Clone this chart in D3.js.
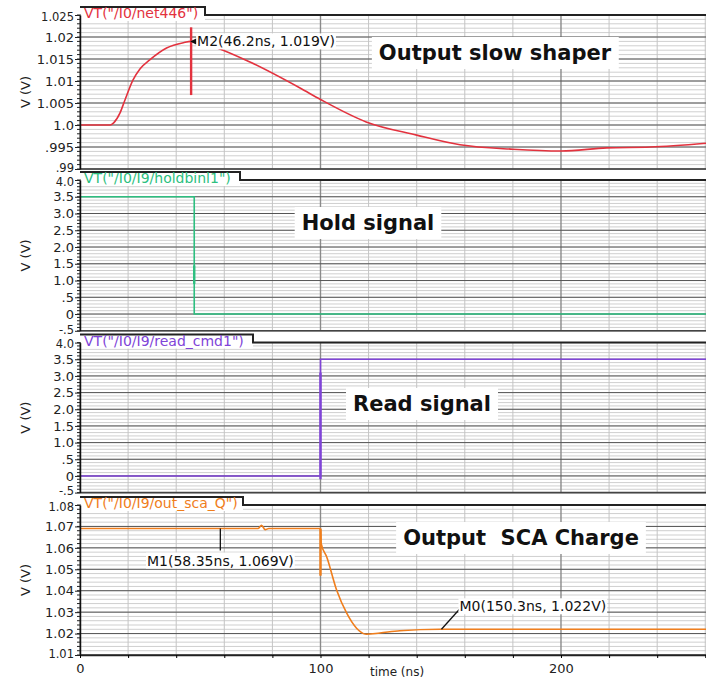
<!DOCTYPE html>
<html><head><meta charset="utf-8">
<script src="https://cdn.jsdelivr.net/npm/d3@7"></script>
<style>body{margin:0;background:#fff}svg{display:block;font-family:"DejaVu Sans",Verdana,sans-serif}</style>
</head><body><svg id="c" width="706" height="679"></svg>
<script>
// ---- data ----
const timeLabels = [0, 100, 200];
const timeGrid = [0, 20, 40, 60, 80, 100, 120, 140, 160, 180, 200, 220, 240, 260];

const shaperTime = [0, 12.5, 14, 16.6, 18.7, 22, 25, 29, 36, 43, 46.2, 50, 57, 70.7, 91.5, 100, 119, 140, 158, 180, 200, 219, 237, 261];
const shaperVolt = [1.0, 1.0, 1.0005, 1.0027, 1.0057, 1.0102, 1.0128, 1.0148, 1.0175, 1.0187, 1.019, 1.0187, 1.0175, 1.0143, 1.0084, 1.0058, 1.0007, 0.9977, 0.9955, 0.9945, 0.9941, 0.9948, 0.995, 0.9959];
const shaperGlitch = [46.2, 1.0068, 1.0222];

const holdTime = [0, 47.5, 47.5, 261];
const holdVolt = [3.5, 3.5, 0, 0];
const holdGlitch = [47.5, 0.9, 1.45];

const readTime = [0, 100, 100, 100.8, 261];
const readVolt = [0, 0, 3.5, 3.5, 3.5];
const readGlitch = [100, -0.1, 3.1];

const scaTime = [0, 74, 75.5, 77, 78.5, 100, 100.3, 102.6, 106.7, 110.9, 115, 119, 124.7, 133, 150, 261];
const scaVolt = [1.069, 1.069, 1.0705, 1.0685, 1.069, 1.069, 1.062, 1.0557, 1.0403, 1.0295, 1.0225, 1.0197, 1.0203, 1.0213, 1.022, 1.022];
const scaGlitch = [100, 1.047, 1.069];

const shaperTicks = [0.99, 0.995, 1.0, 1.005, 1.01, 1.015, 1.02, 1.025];
const shaperTickLabels = [".99", ".995", "1.0", "1.005", "1.01", "1.015", "1.02", "1.025"];
const logicTicks = [-0.5, 0, 0.5, 1.0, 1.5, 2.0, 2.5, 3.0, 3.5, 4.0];
const logicTickLabels = ["-.5", "0", ".5", "1.0", "1.5", "2.0", "2.5", "3.0", "3.5", "4.0"];
const scaTicks = [1.01, 1.02, 1.03, 1.04, 1.05, 1.06, 1.07, 1.08];
const scaTickLabels = ["1.01", "1.02", "1.03", "1.04", "1.05", "1.06", "1.07", "1.08"];

const traceNames = ['VT("/I0/net446")', 'VT("/I0/I9/holdbinl1")', 'VT("/I0/I9/read_cmd1")', 'VT("/I0/I9/out_sca_Q")'];
const panelTitles = ["Output slow shaper", "Hold signal", "Read signal", "Output  SCA Charge"];
const markerLabels = ["M2(46.2ns, 1.019V)", "M1(58.35ns, 1.069V)", "M0(150.3ns, 1.022V)"];

// ---- layout ----
const svg = d3.select("#c");
const W = 706, X0 = 80;
const x = d3.scaleLinear().domain([0, 260.3]).range([X0, W]);

const panels = [
  {t: shaperTime, v: shaperVolt, g: shaperGlitch, ticks: shaperTicks, labels: shaperTickLabels, step: 0.005,
   top: 15, bottom: 169, color: "#e3323e", tabR: 205, title: panelTitles[0], tx: 495, ty: 53, curve: d3.curveMonotoneX},
  {t: holdTime, v: holdVolt, g: holdGlitch, ticks: logicTicks, labels: logicTickLabels, step: 0.5,
   top: 180, bottom: 330.8, color: "#2dbf80", tabR: 240, title: panelTitles[1], tx: 368, ty: 223, curve: d3.curveLinear},
  {t: readTime, v: readVolt, g: readGlitch, ticks: logicTicks, labels: logicTickLabels, step: 0.5,
   top: 342.6, bottom: 492.6, color: "#8044d8", tabR: 253, title: panelTitles[2], tx: 422, ty: 404, curve: d3.curveLinear},
  {t: scaTime, v: scaVolt, g: scaGlitch, ticks: scaTicks, labels: scaTickLabels, step: 0.01,
   top: 505, bottom: 655, color: "#f07e1c", tabR: 243, title: panelTitles[3], tx: 521, ty: 538, curve: d3.curveMonotoneX}
];
panels.forEach((p, i) => { p.name = traceNames[i]; });

function whiteBehind(parent, textSel, padX, padY) {
  const b = textSel.node().getBBox();
  parent.append("rect").attr("x", b.x - padX).attr("y", b.y - padY)
    .attr("width", b.width + 2 * padX).attr("height", b.height + 2 * padY).attr("fill", "#fff");
  textSel.raise();
}

panels.forEach((p, pi) => {
  const d0 = p.ticks[0], d1 = p.ticks[p.ticks.length - 1];
  const y = d3.scaleLinear().domain([d0, d1]).range([p.bottom, p.top]);
  p.y = y;
  const g = svg.append("g");
  const minorStep = p.step / 5;
  const nMinor = Math.round((d1 - d0) / minorStep);
  const minor = d3.range(nMinor + 1).map(i => d0 + i * minorStep);
  g.selectAll(".mh").data(minor).join("line")
    .attr("x1", X0).attr("x2", W).attr("y1", d => y(d)).attr("y2", d => y(d))
    .attr("stroke", "#cfcfcf").attr("stroke-width", 1);
  g.selectAll(".vg").data(timeGrid).join("line")
    .attr("x1", d => x(d)).attr("x2", d => x(d)).attr("y1", p.top).attr("y2", p.bottom)
    .attr("stroke", d => (d % 100 === 0 ? "#8a8a8a" : "#c4c4c4")).attr("stroke-width", d => (d % 100 === 0 ? 1.4 : 1));
  g.selectAll(".mj").data(p.ticks).join("line")
    .attr("x1", X0).attr("x2", W).attr("y1", d => y(d)).attr("y2", d => y(d))
    .attr("stroke", "#555").attr("stroke-width", 1);
  g.append("line").attr("x1", X0).attr("x2", W).attr("y1", p.bottom).attr("y2", p.bottom)
    .attr("stroke", "#444").attr("stroke-width", 1.6);

  const pts = p.t.map((t, i) => [t, p.v[i]]);
  const line = d3.line().x(d => x(d[0])).y(d => y(d[1])).curve(p.curve);
  g.append("path").attr("d", line(pts)).attr("fill", "none").attr("stroke", p.color).attr("stroke-width", 1.6);
  g.append("line").attr("x1", x(p.g[0])).attr("x2", x(p.g[0])).attr("y1", y(p.g[1])).attr("y2", y(p.g[2]))
    .attr("stroke", p.color).attr("stroke-width", 2.4);

  const tg = g.append("g");
  const tt = tg.append("text").attr("x", p.tx).attr("y", p.ty).attr("text-anchor", "middle")
    .attr("dominant-baseline", "central").attr("font-weight", "bold").attr("font-size", 21)
    .style("white-space", "pre").attr("xml:space", "preserve")
    .attr("fill", "#111").text(p.title);
  whiteBehind(tg, tt, 7, 4);

  g.append("rect").attr("x", X0 + 1).attr("y", p.top - 8).attr("width", p.tabR - X0 - 1).attr("height", 14).attr("fill", "#fff");
  g.append("path").attr("d", `M${X0},${p.top - 8}H${p.tabR}V${p.top}H${W}`)
    .attr("fill", "none").attr("stroke", "#222").attr("stroke-width", 2);
  g.append("text").attr("x", X0 + 4).attr("y", p.top - 2).attr("dominant-baseline", "central")
    .attr("font-size", 14).attr("fill", p.color).text(p.name);

  const ax = g.append("g").attr("transform", `translate(${X0},0)`)
    .call(d3.axisLeft(y).tickValues(p.ticks).tickFormat((d, i) => p.labels[i]).tickSize(5).tickSizeOuter(0));
  ax.select(".domain").attr("stroke", "#111").attr("stroke-width", 1.5);
  ax.selectAll(".tick text").attr("fill", "#222").attr("font-family", '"DejaVu Sans",sans-serif').attr("x", -6)
    .attr("dy", (d, i, n) => (i === 0 ? "0.2em" : (i === n.length - 1 ? "0.45em" : "0.32em")))
    .attr("font-size", (d, i, n) => (i === 0 || i === n.length - 1 ? 11.5 : 13));
  ax.selectAll(".tick line").attr("stroke", "#222");
  g.append("g").attr("transform", `translate(${X0},0)`).selectAll("line").data(minor).join("line")
    .attr("x1", -3).attr("x2", 0).attr("y1", d => y(d)).attr("y2", d => y(d)).attr("stroke", "#222");
  g.append("text").attr("transform", `translate(25,${(p.top + p.bottom) / 2}) rotate(-90)`)
    .attr("text-anchor", "middle").attr("dominant-baseline", "central").attr("font-size", 13).attr("fill", "#222").text("V (V)");
});

const xa = svg.append("g").attr("transform", `translate(0,${panels[3].bottom})`)
  .call(d3.axisBottom(x).tickValues(timeGrid).tickFormat(d => (timeLabels.includes(d) ? d : "")).tickSize(3).tickSizeOuter(0));
xa.select(".domain").attr("stroke", "#222").attr("stroke-width", 1.4);
xa.selectAll(".tick text").attr("font-size", 13).attr("fill", "#222").attr("font-family", '"DejaVu Sans",sans-serif').attr("dy", "0.9em");
svg.append("text").attr("x", 397).attr("y", 676).attr("text-anchor", "middle").attr("font-size", 12).attr("fill", "#222").text("time (ns)");

const pS = panels[0], pQ = panels[3];
const mg = svg.append("g");
function marker(txt, tx, ty) {
  const gg = mg.append("g");
  const t = gg.append("text").attr("x", tx).attr("y", ty).attr("dominant-baseline", "central")
    .attr("font-size", 14).attr("fill", "#111").text(txt);
  whiteBehind(gg, t, 1, 0);
}
marker(markerLabels[0], x(46.2) + 6, pS.y(1.019));
mg.append("path").attr("d", `M${x(46.2) - 1},${pS.y(1.019)}l6,-3v6z`).attr("fill", "#111");
mg.append("line").attr("x1", x(58.35)).attr("x2", x(58.35)).attr("y1", pQ.y(1.069)).attr("y2", pQ.y(1.069) + 22).attr("stroke", "#111").attr("stroke-width", 1.3);
marker(markerLabels[1], 147, pQ.y(1.069) + 32);
mg.append("line").attr("x1", x(150.3)).attr("x2", x(150.3) + 18).attr("y1", pQ.y(1.022)).attr("y2", pQ.y(1.022) - 20).attr("stroke", "#111").attr("stroke-width", 1.3);
marker(markerLabels[2], x(150.3) + 18, pQ.y(1.022) - 23);
</script></body></html>
